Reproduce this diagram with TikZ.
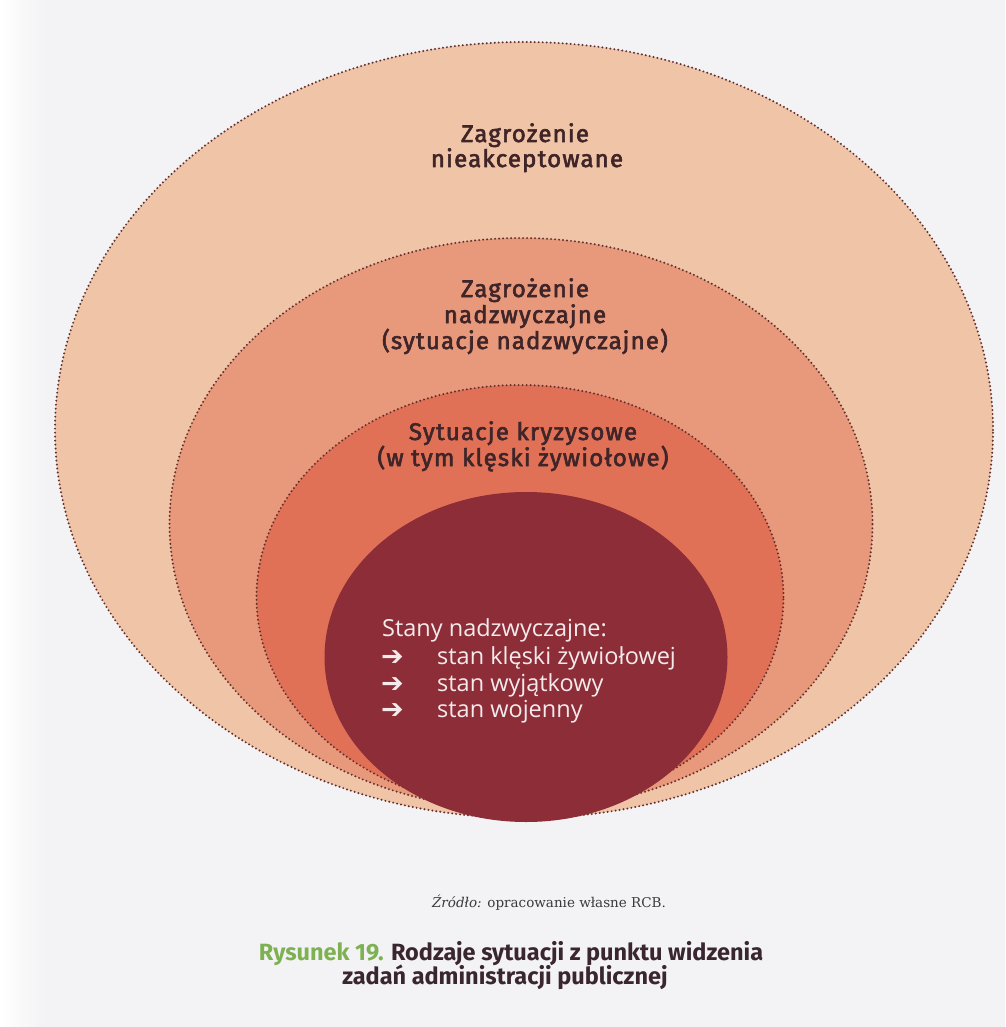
\documentclass[tikz,border=0pt]{standalone}
\usepackage{fontspec}
\usetikzlibrary{shapes.geometric}
\newfontfamily\titlef[LetterSpace=5,FakeBold=2.5]{Fira Sans}
\newfontfamily\listf{Open Sans}
\newfontfamily\capf{Fira Sans}
\newfontfamily\srcf{DejaVu Serif}
\newfontfamily\arrf{DejaVu Sans}
\definecolor{pagebg}{HTML}{F3F2F4}
\definecolor{ringA}{HTML}{F0C4A6}
\definecolor{ringB}{HTML}{E8997C}
\definecolor{ringC}{HTML}{E07157}
\definecolor{ringD}{HTML}{8C2D38}
\definecolor{dotc}{HTML}{64302E}
\definecolor{titlec}{HTML}{3F2428}
\definecolor{listc}{HTML}{F4EAEC}
\definecolor{greenc}{HTML}{7DB152}
\definecolor{capc}{HTML}{3A2631}
\definecolor{srcc}{HTML}{3A3A3A}
\begin{document}
\begin{tikzpicture}[x=1pt,y=1pt,
  ring/.style={ellipse,draw=dotc,line width=2.2pt,line cap=round,dash pattern=on 0pt off 4pt,inner sep=0pt},
  ttl/.style={anchor=base,inner sep=0pt,text=titlec,font=\titlef\fontsize{24}{26}\selectfont},
  lst/.style={anchor=base west,inner sep=0pt,text=listc,font=\listf\fontsize{23.5}{26}\selectfont},
  arr/.style={anchor=base west,inner sep=0pt,text=listc,font=\arrf\bfseries\fontsize{27}{26}\selectfont},
  capt/.style={anchor=base,inner sep=0pt,text=capc,font=\capf\bfseries\fontsize{23.5}{25}\selectfont}]
\fill[pagebg] (0,0) rectangle (1005,-1027);
\shade[left color=white,right color=pagebg] (0,0) rectangle (45,-1027);
\useasboundingbox (0,0) rectangle (1005,-1027);
% nested ellipses
\node[ring,fill=ringA,minimum width=938pt,minimum height=776pt] (e1) at (524,-430) {};
\node[ring,fill=ringB,minimum width=703pt,minimum height=572pt] (e2) at (521,-524) {};
\node[ring,fill=ringC,minimum width=527pt,minimum height=424pt] (e3) at (520,-597) {};
\node[ellipse,fill=ringD,inner sep=0pt,minimum width=403pt,minimum height=330pt] (e4) at (526,-657) {};
% titles
\node[ttl] (t1a) at (525,-142) {Zagrożenie};
\node[ttl] (t1b) at (527,-167) {nieakceptowane};
\node[ttl] (t2a) at (525,-297) {Zagrożenie};
\node[ttl] (t2b) at (525,-323) {nadzwyczajne};
\node[ttl] (t2c) at (525,-349) {(sytuacje nadzwyczajne)};
\node[ttl] (t3a) at (523,-440) {Sytuacje kryzysowe};
\node[ttl] (t3b) at (523,-466) {(w tym klęski żywiołowe)};
% inner list
\node[lst] (l0) at (382,-636) {Stany nadzwyczajne:};
\node[arr] (a1) at (381,-665) {➔};
\node[arr] (a2) at (381,-692) {➔};
\node[arr] (a3) at (381,-718) {➔};
\node[lst] (l1) at (437,-664) {stan klęski żywiołowej};
\node[lst] (l2) at (437,-691) {stan wyjątkowy};
\node[lst] (l3) at (437,-717) {stan wojenny};
% source and caption
\node[anchor=base,inner sep=0pt,text=srcc,font=\srcf\fontsize{13.5}{16}\selectfont] (src) at (549,-907) {\textit{Źródło:} opracowanie własne RCB.};
\node[capt] (c1) at (511,-960) {\textcolor{greenc}{Rysunek 19.} Rodzaje sytuacji z punktu widzenia};
\node[capt] (c2) at (505,-984) {zadań administracji publicznej};
\end{tikzpicture}
\end{document}
